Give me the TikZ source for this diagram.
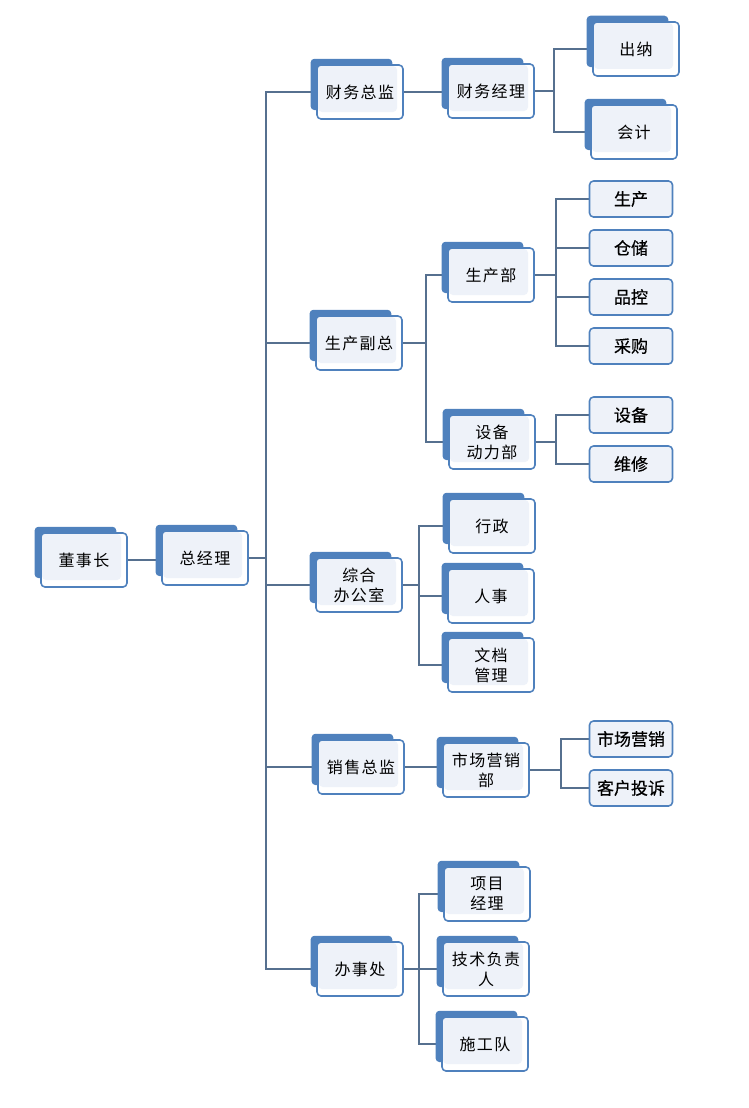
\documentclass[tikz,border=0pt]{standalone}
\usepackage{fontspec}
\setmainfont{Noto Sans CJK SC}
\newfontfamily\boxfont[LetterSpace=9]{Noto Sans CJK SC}
\newfontfamily\leaffont[FakeBold=0.5]{Noto Sans CJK SC}
\usetikzlibrary{shadows,backgrounds}
\definecolor{boxblue}{HTML}{4F81BD}
\definecolor{boxfill}{HTML}{EEF2F9}
\definecolor{linkgray}{HTML}{56708F}
\tikzset{
  unit/.style={draw=boxblue, line width=1.6pt, fill=white, rounded corners=4pt,
    minimum width=86pt, minimum height=54pt, inner sep=0pt, align=center,
    font=\boxfont\fontsize{16}{20}\selectfont,
    general shadow={fill=boxblue, shadow scale=0.95, shadow xshift=-9pt, shadow yshift=8pt},
    path picture={\fill[boxfill] ([shift={(1pt,-1pt)}]path picture bounding box.north west)
      rectangle ([shift={(-6pt,7pt)}]path picture bounding box.south east);}},
  leaf/.style={draw=boxblue, line width=1.6pt, fill=boxfill, rounded corners=4pt,
    minimum width=83pt, minimum height=36pt, inner sep=0pt,
    font=\leaffont\fontsize{17}{20}\selectfont},
  link/.style={draw=linkgray, line width=1.6pt}
}
\begin{document}
\begin{tikzpicture}[x=1pt, y=-1pt, line join=round]
  \useasboundingbox (0,0) rectangle (749,1108);
  % top two levels
  \node[unit] (dsz) at (84,560) {董事长};
  \node[unit] (zjl) at (205,558) {总经理};
  % finance
  \node[unit] (cwzj) at (360,92) {财务总监};
  \node[unit] (cwjl) at (491,91) {财务经理};
  \node[unit] (cn) at (636,49) {出纳};
  \node[unit] (kj) at (634,132) {会计};
  % production
  \node[unit] (scfz) at (359,343) {生产副总};
  \node[unit] (scb) at (491,275) {生产部};
  \node[unit] (sbdlb) at (492,442) {设备\\动力部};
  \node[leaf] (sc) at (631,199) {生产};
  \node[leaf] (cc) at (631,248) {仓储};
  \node[leaf] (pk) at (631,297) {品控};
  \node[leaf] (cg) at (631,346) {采购};
  \node[leaf] (sb) at (631,415) {设备};
  \node[leaf] (wx) at (631,464) {维修};
  % office
  \node[unit] (zhbgs) at (359,585) {综合\\办公室};
  \node[unit] (xz) at (492,526) {行政};
  \node[unit] (rs) at (491,596) {人事};
  \node[unit] (wdgl) at (491,665) {文档\\管理};
  % sales
  \node[unit] (xszj) at (361,767) {销售总监};
  \node[unit] (scyxb) at (486,770) {市场营销\\部};
  \node[leaf] (scyx) at (631,739) {市场营销};
  \node[leaf] (khts) at (631,788) {客户投诉};
  % branch office
  \node[unit] (bsc) at (360,969) {办事处};
  \node[unit] (xmjl) at (487,894) {项目\\经理};
  \node[unit] (jsfzr) at (486,969) {技术负责\\人};
  \node[unit] (sgd) at (485,1044) {施工队};

  \begin{scope}[on background layer]
    \draw[link] (dsz.east) -- (dsz.east -| zjl.west);
    \foreach \c in {cwzj,scfz,zhbgs,xszj,bsc}
      \draw[link] (zjl.east) -- ++(17,0) |- (\c.west);
    \draw[link] (cwzj.east) -- (cwzj.east -| cwjl.west);
    \foreach \c in {cn,kj}
      \draw[link] (cwjl.east) -- ++(19,0) |- (\c.west);
    \foreach \c in {scb,sbdlb}
      \draw[link] (scfz.east) -- ++(23,0) |- (\c.west);
    \foreach \c in {sc,cc,pk,cg}
      \draw[link] (scb.east) -- ++(21,0) |- (\c.west);
    \foreach \c in {sb,wx}
      \draw[link] (sbdlb.east) -- ++(20,0) |- (\c.west);
    \foreach \c in {xz,rs,wdgl}
      \draw[link] (zhbgs.east) -- ++(16,0) |- (\c.west);
    \draw[link] (xszj.east) -- (xszj.east -| scyxb.west);
    \foreach \c in {scyx,khts}
      \draw[link] (scyxb.east) -- ++(31,0) |- (\c.west);
    \foreach \c in {xmjl,jsfzr,sgd}
      \draw[link] (bsc.east) -- ++(15,0) |- (\c.west);
  \end{scope}
\end{tikzpicture}
\end{document}
